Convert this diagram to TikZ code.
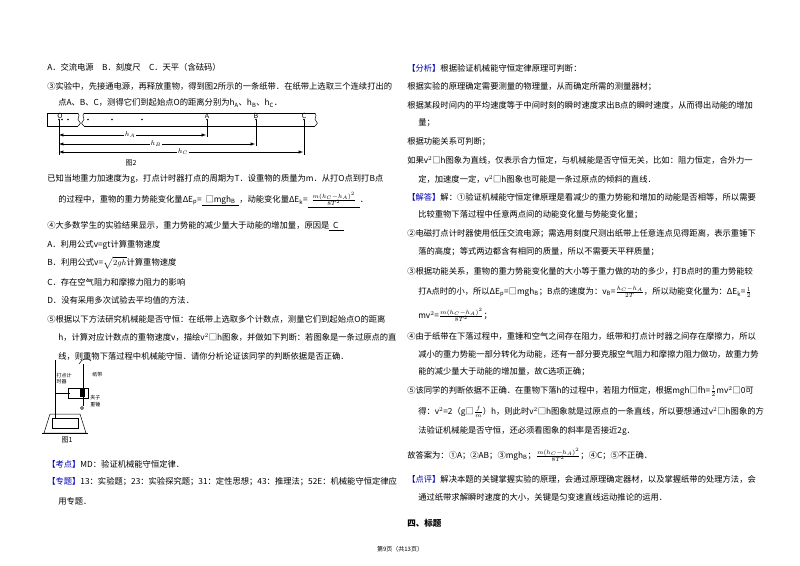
\documentclass[tikz,border=0pt]{standalone}
\usepackage{fontspec}
\setmainfont{Noto Sans CJK SC}
\newcommand\Ln[3]{\node[anchor=west,inner sep=0pt,font=\fontsize{8.3}{10}\selectfont] at (#1,#2) {#3};}
\newcommand\Tg[1]{\textcolor{blue!70!black}{【#1】}}
\begin{document}
\begin{tikzpicture}[x=1pt,y=-1pt,line width=0.5pt]
\useasboundingbox[fill=white] (0,0) rectangle (800,565);
% left column
\Ln{47}{67}{A．交流电源\quad B．刻度尺\quad C．天平（含砝码）}
\Ln{47}{86}{③实验中，先接通电源，再释放重物，得到图2所示的一条纸带．在纸带上选取三个连续打出的}
\Ln{58}{103}{点A、B、C，测得它们到起始点O的距离分别为h$_\mathrm{A}$、h$_\mathrm{B}$、h$_\mathrm{C}$．}
% tape
\draw (78,113) -- (47,113) -- (47,126) -- (78,126);
\draw (78,113) .. controls (81,116) and (76,119) .. (79,121) .. controls (81,123) .. (78,126);
\draw (84,113) .. controls (81,116) and (86,119) .. (83,121) .. controls (81,123) .. (84,126);
\draw (84,113) -- (315,113); \draw (84,126) -- (315,126);
\draw (315,113) .. controls (318,116) and (313,119) .. (316,121) .. controls (318,123) .. (315,126);
\foreach \x in {59,62,68,88,112,142,207,256,304} \fill (\x,119.5) circle (0.9);
\node[font=\scriptsize\itshape] at (60,116) {O};
\node[font=\scriptsize\itshape] at (207,116) {A};
\node[font=\scriptsize\itshape] at (256,116) {B};
\node[font=\scriptsize\itshape] at (304,116) {C};
\draw (59,120) -- (59,155);
\draw (207,120) -- (207,137); \draw (256,120) -- (256,146); \draw (304,120) -- (304,155);
\foreach \y/\e/\l/\lx in {135/206/A/130,144/255/B/156,152/303/C/183}{
  \draw[latex-latex] (59,\y) -- (\e,\y);
  \node[fill=white,inner sep=1pt,font=\scriptsize] at (\lx,\y) {$h_\l$};}
\node[font=\scriptsize] at (131,163) {图2};
\Ln{47}{179}{已知当地重力加速度为g，打点计时器打点的周期为T．设重物的质量为m．从打O点到打B点}
\Ln{58}{200}{的过程中，重物的重力势能变化量ΔE$_\mathrm{p}$=\underline{\ \ □mgh$_\mathrm{B}$\ \ }，动能变化量ΔE$_\mathrm{k}$=\underline{\ \ $\frac{m(h_C-h_A)^2}{8T^2}$\ \ }．}
\Ln{47}{226}{④大多数学生的实验结果显示，重力势能的减少量大于动能的增加量，原因是\underline{\ \ C\ \ \ }}
\Ln{47}{245}{A．利用公式v=gt计算重物速度}
\Ln{47}{263}{B．利用公式v=$\sqrt{2gh}$计算重物速度}
\Ln{47}{282}{C．存在空气阻力和摩擦力阻力的影响}
\Ln{47}{300}{D．没有采用多次试验去平均值的方法．}
\Ln{47}{319}{⑤根据以下方法研究机械能是否守恒：在纸带上选取多个计数点，测量它们到起始点O的距离}
\Ln{58}{337}{h，计算对应计数点的重物速度v，描绘v$^2$□h图象，并做如下判断：若图象是一条过原点的直}
\Ln{58}{356}{线，则重物下落过程中机械能守恒．请你分析论证该同学的判断依据是否正确．}
% apparatus
\begin{scope}[yshift=-6pt]
\draw (55,354) -- (55,412);
\draw (44,427) -- (50,408) -- (80,408) -- (86,427) -- cycle;
\draw (52,412) rectangle (78,422);
\draw (42,427) -- (88,427);
\draw (55,387) -- (70,387);
\draw (68,382) rectangle (88,392);
\fill (80,383) rectangle (85,391);
\draw (83,358) -- (83,400);
\draw (82,402) circle (1.5);
\draw (79,358) .. controls (82,352) and (88,351) .. (91,355);
\node[font=\tiny,align=left,inner sep=0pt] (tm) at (64,373) {打点计\\时器};
\node[font=\tiny,anchor=west,inner sep=0pt] at (92,369) {纸带};
\node[font=\tiny,anchor=west,inner sep=0pt] at (90,392) {夹子};
\node[font=\tiny,anchor=west,inner sep=0pt] at (90,399) {重锤};
\node[font=\scriptsize] at (67,434) {图1};
\end{scope}
\Ln{47}{464}{\Tg{考点}MD：验证机械能守恒定律．}
\Ln{47}{482}{\Tg{专题}13：实验题；23：实验探究题；31：定性思想；43：推理法；52E：机械能守恒定律应}
\Ln{58}{501}{用专题．}
% right column
\Ln{407}{68}{\Tg{分析}根据验证机械能守恒定律原理可判断：}
\Ln{407}{87}{根据实验的原理确定需要测量的物理量，从而确定所需的测量器材；}
\Ln{407}{105}{根据某段时间内的平均速度等于中间时刻的瞬时速度求出B点的瞬时速度，从而得出动能的增加}
\Ln{418}{123}{量；}
\Ln{407}{142}{根据功能关系可判断；}
\Ln{407}{160}{如果v$^2$□h图象为直线，仅表示合力恒定，与机械能是否守恒无关，比如：阻力恒定，合外力一}
\Ln{418}{179}{定，加速度一定，v$^2$□h图象也可能是一条过原点的倾斜的直线．}
\Ln{407}{197}{\Tg{解答}解：①验证机械能守恒定律原理是看减少的重力势能和增加的动能是否相等，所以需要}
\Ln{418}{215}{比较重物下落过程中任意两点间的动能变化量与势能变化量；}
\Ln{407}{234}{②电磁打点计时器使用低压交流电源；需选用刻度尺测出纸带上任意连点见得距离，表示重锤下}
\Ln{418}{252}{落的高度；等式两边都含有相同的质量，所以不需要天平秤质量；}
\Ln{407}{271}{③根据功能关系，重物的重力势能变化量的大小等于重力做的功的多少，打B点时的重力势能较}
\Ln{418}{292}{打A点时的小，所以ΔE$_\mathrm{p}$=□mgh$_\mathrm{B}$；B点的速度为：v$_\mathrm{B}$=$\frac{h_C-h_A}{2T}$，所以动能变化量为：ΔE$_\mathrm{k}$=$\frac{1}{2}$}
\Ln{418}{315}{mv$^2$=$\frac{m(h_C-h_A)^2}{8T^2}$；}
\Ln{407}{336}{④由于纸带在下落过程中，重锤和空气之间存在阻力，纸带和打点计时器之间存在摩擦力，所以}
\Ln{418}{354}{减小的重力势能一部分转化为动能，还有一部分要克服空气阻力和摩擦力阻力做功，故重力势}
\Ln{418}{372}{能的减少量大于动能的增加量，故C选项正确；}
\Ln{407}{391}{⑤该同学的判断依据不正确．在重物下落h的过程中，若阻力f恒定，根据mgh□fh=$\frac{1}{2}$mv$^2$□0可}
\Ln{418}{412}{得：v$^2$=2（g□$\frac{f}{m}$）h，则此时v$^2$□h图象就是过原点的一条直线，所以要想通过v$^2$□h图象的方}
\Ln{418}{431}{法验证机械能是否守恒，还必须看图象的斜率是否接近2g．}
\Ln{407}{455}{故答案为：①A；②AB；③mgh$_\mathrm{B}$；$\frac{m(h_C-h_A)^2}{8T^2}$；④C；⑤不正确．}
\Ln{407}{479}{\Tg{点评}解决本题的关键掌握实验的原理，会通过原理确定器材，以及掌握纸带的处理方法，会}
\Ln{418}{497}{通过纸带求解瞬时速度的大小，关键是匀变速直线运动推论的运用．}
\node[anchor=west,inner sep=0pt,font=\fontsize{8.5}{10}\selectfont\bfseries] at (407,523) {四、标题};
\node[inner sep=0pt,font=\fontsize{6}{7}\selectfont] at (400,549) {第9页（共13页）};
\end{tikzpicture}
\end{document}
